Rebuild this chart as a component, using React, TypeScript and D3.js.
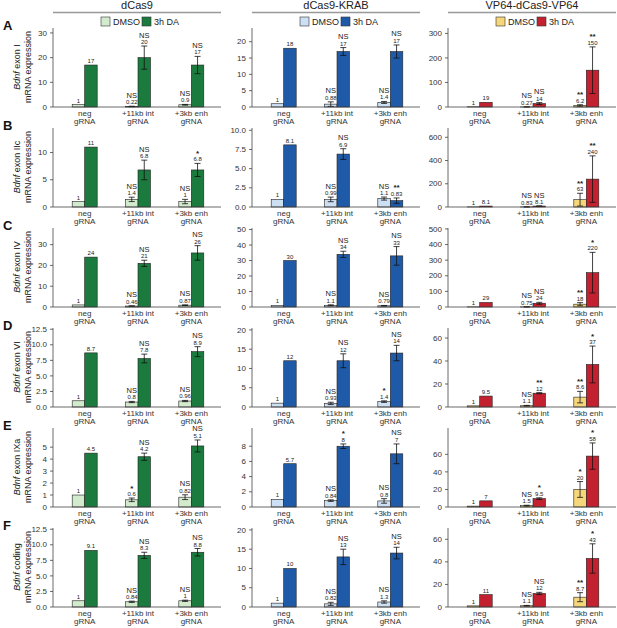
import React from "react";
import * as d3 from "d3";

const systems = ["dCas9", "dCas9-KRAB", "VP64-dCas9-VP64"];
const rowLetters = ["A", "B", "C", "D", "E", "F"];
const transcripts = ["exon I", "exon IIc", "exon IV", "exon VI", "exon IXa", "coding"];
const gRNAs = ["neg", "+11kb int", "+3kb enh"];
const conditions = ["DMSO", "3h DA"];

// [row][system][gRNA]
const dmsoMean = [
  [[1, 0.22, 0.9], [1, 0.88, 1.4], [1, 0.27, 6.2]],
  [[1, 1.4, 1], [1, 0.99, 1.1], [1, 0.83, 63]],
  [[1, 0.46, 0.87], [1, 1.1, 0.79], [1, 0.75, 18]],
  [[1, 0.8, 0.96], [1, 0.93, 1.4], [1, 1.1, 8.6]],
  [[1, 0.6, 0.82], [1, 0.84, 0.8], [1, 1.5, 20]],
  [[1, 0.84, 1], [1, 0.82, 1.3], [1, 1.1, 8.7]],
];
const dmsoErr = [
  [[0, 0.1, 0.15], [0, 0.7, 0.3], [0, 0.3, 3]],
  [[0, 0.4, 0.4], [0, 0.3, 0.2], [0, 0.3, 55]],
  [[0, 0.1, 0.15], [0, 0.3, 0.2], [0, 0.2, 10]],
  [[0, 0.1, 0.1], [0, 0.3, 0.2], [0, 0.3, 5]],
  [[0, 0.15, 0.2], [0, 0.1, 0.3], [0, 0.5, 9]],
  [[0, 0.1, 0.1], [0, 0.4, 0.3], [0, 0.3, 4]],
];
const daMean = [
  [[17, 20, 17], [18, 17, 17], [19, 14, 150]],
  [[11, 6.8, 6.8], [8.1, 6.9, 0.83], [8.1, 8.1, 240]],
  [[24, 21, 26], [30, 34, 33], [29, 24, 220]],
  [[8.7, 7.8, 8.9], [12, 12, 14], [9.5, 12, 37]],
  [[4.5, 4.2, 5.1], [5.7, 8, 7], [7, 9.5, 58]],
  [[9.1, 8.3, 8.8], [10, 13, 14], [11, 12, 43]],
];
const daErr = [
  [[0, 4.7, 3.5], [0, 1.2, 2], [0, 4, 95]],
  [[0, 1.8, 1.2], [0, 0.7, 0.35], [0, 0.5, 200]],
  [[0, 1.5, 3.5], [0, 2, 6], [0, 6, 130]],
  [[0, 0.7, 0.8], [0, 1.8, 2], [0, 0.5, 16]],
  [[0, 0.3, 0.5], [0, 0.3, 1.3], [0, 1, 15]],
  [[0, 0.5, 0.6], [0, 2, 1.5], [0, 1, 13]],
];
const dmsoSig = [
  [["", "NS", "NS"], ["", "NS", "NS"], ["", "NS", "**"]],
  [["", "NS", "NS"], ["", "NS", "NS"], ["", "NS", "**"]],
  [["", "NS", "NS"], ["", "NS", "NS"], ["", "NS", "**"]],
  [["", "NS", "NS"], ["", "NS", "*"], ["", "NS", "**"]],
  [["", "*", "NS"], ["", "NS", "NS"], ["", "NS", "*"]],
  [["", "NS", "NS"], ["", "NS", "NS"], ["", "NS", "**"]],
];
const daSig = [
  [["", "NS", "NS"], ["", "NS", "NS"], ["", "NS", "**"]],
  [["", "NS", "*"], ["", "NS", "**"], ["", "NS", "**"]],
  [["", "NS", "NS"], ["", "NS", "NS"], ["", "NS", "*"]],
  [["", "NS", "NS"], ["", "NS", "NS"], ["", "**", "*"]],
  [["", "NS", "NS"], ["", "*", "NS"], ["", "*", "*"]],
  [["", "NS", "NS"], ["", "NS", "NS"], ["", "NS", "*"]],
];
const yTicks = [
  [[0, 10, 20, 30], [0, 5, 10, 15, 20], [0, 100, 200, 300]],
  [[0, 5, 10], [0, 2.5, 5, 7.5, 10], [0, 200, 400, 600]],
  [[0, 10, 20, 30], [0, 10, 20, 30, 40, 50], [0, 100, 200, 300, 400, 500]],
  [[0, 2.5, 5, 7.5, 10, 12.5], [0, 5, 10, 15, 20], [0, 20, 40, 60]],
  [[0, 1, 2, 3, 4, 5], [0, 2, 4, 6, 8], [0, 20, 40, 60]],
  [[0, 2.5, 5, 7.5, 10, 12.5], [0, 5, 10, 15, 20], [0, 20, 40, 60]],
];
const yMax = [
  [32, 24.2, 322],
  [14.5, 10.3, 680],
  [38, 51, 506],
  [12.7, 20.5, 68.7],
  [6.6, 10.4, 90],
  [12.7, 20.5, 70],
];

const dmsoColors = ["#d3ebcd", "#cddff3", "#f6d67a"];
const daColors = ["#1b7a3d", "#1f5aa8", "#c42130"];

const FONT = "Liberation Sans, Arial, Helvetica, sans-serif";
const colX0 = [53, 252, 448];
const rowBase = [107, 207, 307, 407, 507, 607];
const plotH = 79;
const xLen = 168;
const tickDecimal = (ticks: number[]) => ticks.some((t) => t % 1 !== 0);

function Panel({ r, c }: { r: number; c: number }) {
  const x0 = colX0[c];
  const base = rowBase[r];
  const y = d3.scaleLinear().domain([0, yMax[r][c]]).range([base, base - plotH]);
  const xg = d3.scalePoint<string>().domain(gRNAs).range([x0 + 31.7, x0 + 138.3]);
  const xs = d3.scaleBand<string>().domain(conditions).range([-12.5, 12.5]);
  const ticks = yTicks[r][c];
  const dec = tickDecimal(ticks);
  const fmt = (t: number) => (dec ? d3.format(".1f")(t) : String(t));
  const series = [
    { mean: dmsoMean[r][c], err: dmsoErr[r][c], sig: dmsoSig[r][c], color: dmsoColors[c], cond: conditions[0] },
    { mean: daMean[r][c], err: daErr[r][c], sig: daSig[r][c], color: daColors[c], cond: conditions[1] },
  ];
  return (
    <g>
      <line x1={x0} x2={x0} y1={base} y2={base - plotH} stroke="#444" strokeWidth={0.8} />
      {ticks.map((t) => (
        <g key={t}>
          <line x1={x0 - 3} x2={x0} y1={y(t)} y2={y(t)} stroke="#444" strokeWidth={0.8} />
          <text x={x0 - 6} y={y(t)} dy="0.33em" textAnchor="end" fontSize={8} fill="#333" fontFamily={FONT}>
            {fmt(t)}
          </text>
        </g>
      ))}
      {series.map((s, si) =>
        gRNAs.map((g, gi) => {
          const cx = (xg(g) as number) + (xs(s.cond) as number);
          const w = xs.bandwidth();
          const v = s.mean[gi];
          const e = s.err[gi];
          const top = y(v);
          const eTop = y(v + e);
          const eBot = y(Math.max(0, v - e));
          const labelTop = e > 0 ? eTop : top;
          const mid = cx + w / 2;
          return (
            <g key={si + "-" + gi}>
              <rect x={cx} y={top} width={w} height={base - top} fill={s.color} stroke="#222" strokeWidth={0.6} />
              {e > 0 && (
                <g stroke="#111" strokeWidth={0.8}>
                  <line x1={mid} x2={mid} y1={eTop} y2={eBot} />
                  <line x1={mid - 3} x2={mid + 3} y1={eTop} y2={eTop} />
                  <line x1={mid - 3} x2={mid + 3} y1={eBot} y2={eBot} />
                </g>
              )}
              <text x={mid} y={labelTop - 2} textAnchor="middle" fontSize={6} fill="#222" fontFamily={FONT}>
                {String(v)}
              </text>
              {s.sig[gi] && (
                <text
                  x={mid}
                  y={labelTop - (s.sig[gi] === "NS" ? 8.5 : 7.5)}
                  textAnchor="middle"
                  fontSize={s.sig[gi] === "NS" ? 7.5 : 8}
                  fontWeight={s.sig[gi] === "NS" ? "normal" : "bold"}
                  fill="#222"
                  fontFamily={FONT}
                >
                  {s.sig[gi]}
                </text>
              )}
            </g>
          );
        })
      )}
      <line x1={x0} x2={x0 + xLen} y1={base} y2={base} stroke="#444" strokeWidth={0.8} />
      {gRNAs.map((g) => (
        <text key={g} x={xg(g)} textAnchor="middle" fontSize={8} fill="#333" fontFamily={FONT}>
          <tspan x={xg(g)} y={base + 9}>{g}</tspan>
          <tspan x={xg(g)} y={base + 17}>gRNA</tspan>
        </text>
      ))}
    </g>
  );
}

export default function App() {
  return (
    <svg width={617} height={628} style={{ position: "absolute", left: 0, top: 0, background: "#fff" }}>
      <rect width={617} height={628} fill="#fff" />
      {systems.map((s, c) => {
        const x0 = colX0[c];
        return (
          <g key={s}>
            <text x={x0 + 84} y={9} textAnchor="middle" fontSize={11} fill="#222" fontFamily={FONT}>
              {s}
            </text>
            <line x1={x0} x2={x0 + xLen} y1={12.5} y2={12.5} stroke="#999" strokeWidth={1.5} />
            <rect x={x0 + 48} y={17} width={9} height={9} fill={dmsoColors[c]} stroke="#333" strokeWidth={0.6} />
            <text x={x0 + 60} y={24.5} fontSize={9} fill="#222" fontFamily={FONT}>
              {conditions[0]}
            </text>
            <rect x={x0 + 89} y={17} width={9} height={9} fill={daColors[c]} stroke="#333" strokeWidth={0.6} />
            <text x={x0 + 101} y={24.5} fontSize={9} fill="#222" fontFamily={FONT}>
              {conditions[1]}
            </text>
          </g>
        );
      })}
      {rowLetters.map((L, r) => {
        const base = rowBase[r];
        const cy = base - 40;
        return (
          <g key={L}>
            <text x={3} y={base - 77} fontSize={13} fontWeight="bold" fill="#111" fontFamily={FONT}>
              {L}
            </text>
            <text transform={`translate(20,${cy}) rotate(-90)`} textAnchor="middle" fontSize={9} fill="#222" fontFamily={FONT}>
              <tspan fontStyle="italic">Bdnf</tspan>
              <tspan>{" " + transcripts[r]}</tspan>
            </text>
            <text transform={`translate(31,${cy}) rotate(-90)`} textAnchor="middle" fontSize={9} fill="#222" fontFamily={FONT}>
              mRNA expression
            </text>
            {systems.map((s, c) => (
              <Panel key={s} r={r} c={c} />
            ))}
          </g>
        );
      })}
    </svg>
  );
}
